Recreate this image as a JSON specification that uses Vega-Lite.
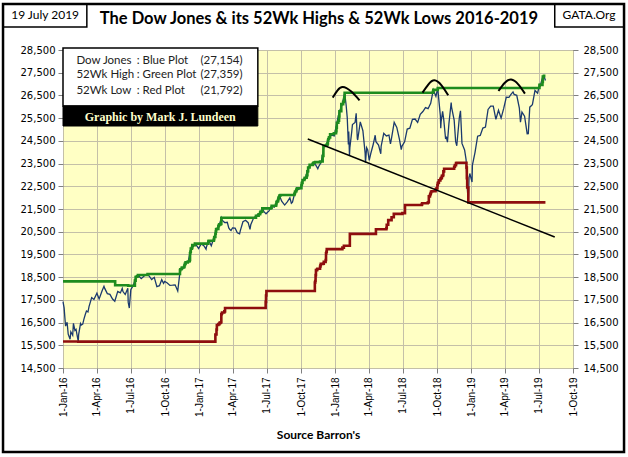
{
  "$schema": "https://vega.github.io/schema/vega-lite/v6.json",
  "width": 510,
  "height": 318,
  "autosize": {"type": "none"},
  "padding": {"left": 63, "top": 50, "right": 55, "bottom": 89},
  "background": "white",
  "view": {"fill": "#FFFFC4", "stroke": "#000000", "strokeWidth": 1},
  "config": {
    "axis": {"domain": false, "tickColor": "#808080", "tickSize": 5, "gridColor": "#C4C0A8", "gridOpacity": 1, "gridWidth": 1, "labelColor": "#000000", "labelFont": "DejaVu Sans", "labelFontSize": 10, "labelPadding": 3},
    "axisX": {"labelFont": "Liberation Sans", "labelFontSize": 10, "labelAngle": 270, "labelPadding": 4, "titleFont": "Lato", "titleFontWeight": "bold", "titleFontSize": 12, "titleColor": "#000000", "titlePadding": 13}
  },
  "encoding": {
    "x": {
      "field": "date", "type": "temporal",
      "scale": {"type": "utc", "nice": false, "domain": [{"year": 2016, "month": 1, "date": 1, "utc": true}, {"year": 2019, "month": 10, "date": 1, "utc": true}]},
      "axis": {
        "title": "Source Barron's", "grid": true, "labelExpr": "utcFormat(datum.value, '%-d-%b-%y')",
        "values": [
          {"year": 2016, "month": 1, "date": 1, "utc": true}, {"year": 2016, "month": 4, "date": 1, "utc": true}, {"year": 2016, "month": 7, "date": 1, "utc": true}, {"year": 2016, "month": 10, "date": 1, "utc": true},
          {"year": 2017, "month": 1, "date": 1, "utc": true}, {"year": 2017, "month": 4, "date": 1, "utc": true}, {"year": 2017, "month": 7, "date": 1, "utc": true}, {"year": 2017, "month": 10, "date": 1, "utc": true},
          {"year": 2018, "month": 1, "date": 1, "utc": true}, {"year": 2018, "month": 4, "date": 1, "utc": true}, {"year": 2018, "month": 7, "date": 1, "utc": true}, {"year": 2018, "month": 10, "date": 1, "utc": true},
          {"year": 2019, "month": 1, "date": 1, "utc": true}, {"year": 2019, "month": 4, "date": 1, "utc": true}, {"year": 2019, "month": 7, "date": 1, "utc": true}, {"year": 2019, "month": 10, "date": 1, "utc": true}
        ]
      }
    },
    "y": {"field": "value", "type": "quantitative", "scale": {"domain": [14500, 28500], "nice": false, "zero": false}, "axis": null}
  },
  "resolve": {"axis": {"y": "independent"}},
  "layer": [
    {
      "data": {"values": [
        {"date": "2016-01-01", "value": 17425}, {"date": "2016-01-04", "value": 17149}, {"date": "2016-01-07", "value": 16515}, {"date": "2016-01-08", "value": 16346}, {"date": "2016-01-12", "value": 16516}, {"date": "2016-01-15", "value": 15988}, {"date": "2016-01-20", "value": 15766}, {"date": "2016-01-22", "value": 16094}, {"date": "2016-01-27", "value": 15944}, {"date": "2016-01-29", "value": 16466},
        {"date": "2016-02-02", "value": 16153}, {"date": "2016-02-05", "value": 16205}, {"date": "2016-02-11", "value": 15660}, {"date": "2016-02-12", "value": 15974}, {"date": "2016-02-17", "value": 16454}, {"date": "2016-02-19", "value": 16392}, {"date": "2016-02-23", "value": 16431}, {"date": "2016-02-26", "value": 16640},
        {"date": "2016-03-01", "value": 16866}, {"date": "2016-03-04", "value": 17007}, {"date": "2016-03-08", "value": 16964}, {"date": "2016-03-11", "value": 17213}, {"date": "2016-03-18", "value": 17602}, {"date": "2016-03-24", "value": 17516},
        {"date": "2016-04-01", "value": 17793}, {"date": "2016-04-07", "value": 17542}, {"date": "2016-04-15", "value": 17897}, {"date": "2016-04-20", "value": 18096}, {"date": "2016-04-22", "value": 18004}, {"date": "2016-04-29", "value": 17774},
        {"date": "2016-05-06", "value": 17741}, {"date": "2016-05-13", "value": 17535}, {"date": "2016-05-19", "value": 17436}, {"date": "2016-05-27", "value": 17873},
        {"date": "2016-06-03", "value": 17807}, {"date": "2016-06-08", "value": 18005}, {"date": "2016-06-10", "value": 17865}, {"date": "2016-06-16", "value": 17733}, {"date": "2016-06-23", "value": 18011}, {"date": "2016-06-24", "value": 17400}, {"date": "2016-06-27", "value": 17140},
        {"date": "2016-07-01", "value": 17949}, {"date": "2016-07-08", "value": 18147}, {"date": "2016-07-15", "value": 18517}, {"date": "2016-07-20", "value": 18595}, {"date": "2016-07-29", "value": 18432},
        {"date": "2016-08-05", "value": 18543}, {"date": "2016-08-15", "value": 18636}, {"date": "2016-08-19", "value": 18553}, {"date": "2016-08-26", "value": 18395},
        {"date": "2016-09-02", "value": 18492}, {"date": "2016-09-09", "value": 18085}, {"date": "2016-09-16", "value": 18124}, {"date": "2016-09-22", "value": 18392}, {"date": "2016-09-27", "value": 18228}, {"date": "2016-09-30", "value": 18308},
        {"date": "2016-10-07", "value": 18240}, {"date": "2016-10-14", "value": 18138}, {"date": "2016-10-21", "value": 18145}, {"date": "2016-10-28", "value": 18161},
        {"date": "2016-11-04", "value": 17888}, {"date": "2016-11-09", "value": 18589}, {"date": "2016-11-11", "value": 18848}, {"date": "2016-11-18", "value": 18868}, {"date": "2016-11-25", "value": 19152},
        {"date": "2016-12-02", "value": 19171}, {"date": "2016-12-09", "value": 19757}, {"date": "2016-12-16", "value": 19843}, {"date": "2016-12-20", "value": 19975}, {"date": "2016-12-23", "value": 19934}, {"date": "2016-12-30", "value": 19763},
        {"date": "2017-01-06", "value": 19964}, {"date": "2017-01-13", "value": 19885}, {"date": "2017-01-19", "value": 19732}, {"date": "2017-01-20", "value": 19827}, {"date": "2017-01-25", "value": 20069}, {"date": "2017-01-27", "value": 20094},
        {"date": "2017-02-02", "value": 19884}, {"date": "2017-02-10", "value": 20269}, {"date": "2017-02-17", "value": 20624}, {"date": "2017-02-24", "value": 20822},
        {"date": "2017-03-01", "value": 21115}, {"date": "2017-03-03", "value": 21006}, {"date": "2017-03-10", "value": 20903}, {"date": "2017-03-17", "value": 20915}, {"date": "2017-03-21", "value": 20669}, {"date": "2017-03-24", "value": 20597}, {"date": "2017-03-27", "value": 20550}, {"date": "2017-03-31", "value": 20663},
        {"date": "2017-04-07", "value": 20656}, {"date": "2017-04-13", "value": 20453}, {"date": "2017-04-19", "value": 20404}, {"date": "2017-04-21", "value": 20548}, {"date": "2017-04-28", "value": 20941},
        {"date": "2017-05-05", "value": 21007}, {"date": "2017-05-12", "value": 20897}, {"date": "2017-05-17", "value": 20606}, {"date": "2017-05-19", "value": 20805}, {"date": "2017-05-26", "value": 21080},
        {"date": "2017-06-02", "value": 21206}, {"date": "2017-06-09", "value": 21272}, {"date": "2017-06-16", "value": 21384}, {"date": "2017-06-19", "value": 21529}, {"date": "2017-06-23", "value": 21395}, {"date": "2017-06-29", "value": 21287},
        {"date": "2017-07-07", "value": 21414}, {"date": "2017-07-14", "value": 21638}, {"date": "2017-07-21", "value": 21580}, {"date": "2017-07-28", "value": 21830},
        {"date": "2017-08-04", "value": 22093}, {"date": "2017-08-10", "value": 21844}, {"date": "2017-08-18", "value": 21674}, {"date": "2017-08-25", "value": 21814},
        {"date": "2017-09-01", "value": 21988}, {"date": "2017-09-05", "value": 21753}, {"date": "2017-09-08", "value": 21798}, {"date": "2017-09-15", "value": 22268}, {"date": "2017-09-22", "value": 22350}, {"date": "2017-09-29", "value": 22405},
        {"date": "2017-10-06", "value": 22774}, {"date": "2017-10-13", "value": 22871}, {"date": "2017-10-20", "value": 23329}, {"date": "2017-10-27", "value": 23434},
        {"date": "2017-11-03", "value": 23539}, {"date": "2017-11-10", "value": 23422}, {"date": "2017-11-15", "value": 23271}, {"date": "2017-11-17", "value": 23358}, {"date": "2017-11-24", "value": 23558},
        {"date": "2017-12-01", "value": 24231}, {"date": "2017-12-08", "value": 24329}, {"date": "2017-12-15", "value": 24652}, {"date": "2017-12-22", "value": 24754}, {"date": "2017-12-29", "value": 24719},
        {"date": "2018-01-05", "value": 25296}, {"date": "2018-01-12", "value": 25803}, {"date": "2018-01-19", "value": 26072}, {"date": "2018-01-26", "value": 26617}, {"date": "2018-01-30", "value": 26077},
        {"date": "2018-02-02", "value": 25521}, {"date": "2018-02-05", "value": 24346}, {"date": "2018-02-06", "value": 24913}, {"date": "2018-02-08", "value": 23860}, {"date": "2018-02-09", "value": 24191}, {"date": "2018-02-14", "value": 24893}, {"date": "2018-02-16", "value": 25219}, {"date": "2018-02-23", "value": 25310}, {"date": "2018-02-26", "value": 25710},
        {"date": "2018-03-01", "value": 24609}, {"date": "2018-03-02", "value": 24538}, {"date": "2018-03-09", "value": 25336}, {"date": "2018-03-16", "value": 24947}, {"date": "2018-03-22", "value": 23958}, {"date": "2018-03-23", "value": 23533}, {"date": "2018-03-26", "value": 24202}, {"date": "2018-03-29", "value": 24103},
        {"date": "2018-04-02", "value": 23644}, {"date": "2018-04-06", "value": 23933}, {"date": "2018-04-13", "value": 24360}, {"date": "2018-04-18", "value": 24748}, {"date": "2018-04-20", "value": 24463}, {"date": "2018-04-27", "value": 24311},
        {"date": "2018-05-03", "value": 23930}, {"date": "2018-05-04", "value": 24263}, {"date": "2018-05-11", "value": 24831}, {"date": "2018-05-18", "value": 24715}, {"date": "2018-05-25", "value": 24753}, {"date": "2018-05-29", "value": 24362},
        {"date": "2018-06-01", "value": 24635}, {"date": "2018-06-08", "value": 25317}, {"date": "2018-06-15", "value": 25090}, {"date": "2018-06-22", "value": 24581}, {"date": "2018-06-27", "value": 24117}, {"date": "2018-06-29", "value": 24271},
        {"date": "2018-07-06", "value": 24456}, {"date": "2018-07-13", "value": 25019}, {"date": "2018-07-20", "value": 25058}, {"date": "2018-07-27", "value": 25451},
        {"date": "2018-08-03", "value": 25463}, {"date": "2018-08-10", "value": 25313}, {"date": "2018-08-17", "value": 25669}, {"date": "2018-08-24", "value": 25790}, {"date": "2018-08-31", "value": 25965},
        {"date": "2018-09-07", "value": 25917}, {"date": "2018-09-14", "value": 26155}, {"date": "2018-09-21", "value": 26744}, {"date": "2018-09-28", "value": 26458},
        {"date": "2018-10-03", "value": 26828}, {"date": "2018-10-05", "value": 26447}, {"date": "2018-10-10", "value": 25599}, {"date": "2018-10-11", "value": 25053}, {"date": "2018-10-12", "value": 25340}, {"date": "2018-10-16", "value": 25798}, {"date": "2018-10-19", "value": 25444}, {"date": "2018-10-24", "value": 24583}, {"date": "2018-10-26", "value": 24688}, {"date": "2018-10-29", "value": 24443},
        {"date": "2018-11-02", "value": 25271}, {"date": "2018-11-08", "value": 26191}, {"date": "2018-11-09", "value": 25989}, {"date": "2018-11-16", "value": 25413}, {"date": "2018-11-20", "value": 24465}, {"date": "2018-11-23", "value": 24286}, {"date": "2018-11-30", "value": 25538},
        {"date": "2018-12-03", "value": 25826}, {"date": "2018-12-07", "value": 24389}, {"date": "2018-12-14", "value": 24101}, {"date": "2018-12-18", "value": 23675}, {"date": "2018-12-20", "value": 22859}, {"date": "2018-12-21", "value": 22445}, {"date": "2018-12-24", "value": 21792}, {"date": "2018-12-26", "value": 22878}, {"date": "2018-12-28", "value": 23062},
        {"date": "2019-01-03", "value": 22686}, {"date": "2019-01-04", "value": 23433}, {"date": "2019-01-11", "value": 23996}, {"date": "2019-01-18", "value": 24706}, {"date": "2019-01-25", "value": 24737},
        {"date": "2019-02-01", "value": 25064}, {"date": "2019-02-08", "value": 25106}, {"date": "2019-02-15", "value": 25883}, {"date": "2019-02-22", "value": 26031},
        {"date": "2019-03-01", "value": 26026}, {"date": "2019-03-08", "value": 25450}, {"date": "2019-03-15", "value": 25849}, {"date": "2019-03-22", "value": 25502}, {"date": "2019-03-29", "value": 25929},
        {"date": "2019-04-05", "value": 26425}, {"date": "2019-04-12", "value": 26412}, {"date": "2019-04-18", "value": 26559}, {"date": "2019-04-23", "value": 26656}, {"date": "2019-04-26", "value": 26543},
        {"date": "2019-05-03", "value": 26505}, {"date": "2019-05-10", "value": 25942}, {"date": "2019-05-13", "value": 25325}, {"date": "2019-05-17", "value": 25764}, {"date": "2019-05-24", "value": 25586}, {"date": "2019-05-31", "value": 24815},
        {"date": "2019-06-03", "value": 24820}, {"date": "2019-06-07", "value": 25984}, {"date": "2019-06-14", "value": 26090}, {"date": "2019-06-21", "value": 26719}, {"date": "2019-06-28", "value": 26600},
        {"date": "2019-07-03", "value": 26966}, {"date": "2019-07-05", "value": 26922}, {"date": "2019-07-12", "value": 27332}, {"date": "2019-07-15", "value": 27359}, {"date": "2019-07-19", "value": 27154}
      ]},
      "mark": {"type": "line", "color": "#1B3A6E", "strokeWidth": 1.3},
      "encoding": {
        "y": {"field": "value", "type": "quantitative", "scale": {"domain": [14500, 28500], "nice": false, "zero": false},
          "axis": {"orient": "left", "title": null, "grid": true, "format": ",d", "values": [14500, 15500, 16500, 17500, 18500, 19500, 20500, 21500, 22500, 23500, 24500, 25500, 26500, 27500, 28500]}}
      }
    },
    {
      "data": {"values": [
        {"date": "2016-01-01", "value": 18312}, {"date": "2016-05-20", "value": 18144}, {"date": "2016-06-24", "value": 18120}, {"date": "2016-07-12", "value": 18347}, {"date": "2016-07-14", "value": 18506}, {"date": "2016-07-15", "value": 18517}, {"date": "2016-07-18", "value": 18534}, {"date": "2016-07-20", "value": 18595}, {"date": "2016-08-15", "value": 18636},
        {"date": "2016-11-10", "value": 18808}, {"date": "2016-11-11", "value": 18848}, {"date": "2016-11-14", "value": 18869}, {"date": "2016-11-15", "value": 18924}, {"date": "2016-11-21", "value": 18956}, {"date": "2016-11-22", "value": 19024}, {"date": "2016-11-23", "value": 19083}, {"date": "2016-11-25", "value": 19152},
        {"date": "2016-12-01", "value": 19191}, {"date": "2016-12-05", "value": 19216}, {"date": "2016-12-06", "value": 19252}, {"date": "2016-12-07", "value": 19549}, {"date": "2016-12-08", "value": 19615}, {"date": "2016-12-09", "value": 19757}, {"date": "2016-12-12", "value": 19797}, {"date": "2016-12-13", "value": 19911}, {"date": "2016-12-20", "value": 19975},
        {"date": "2017-01-25", "value": 20069}, {"date": "2017-01-26", "value": 20101}, {"date": "2017-02-09", "value": 20172}, {"date": "2017-02-10", "value": 20269}, {"date": "2017-02-13", "value": 20413}, {"date": "2017-02-14", "value": 20504}, {"date": "2017-02-15", "value": 20611}, {"date": "2017-02-17", "value": 20624}, {"date": "2017-02-21", "value": 20744}, {"date": "2017-02-22", "value": 20776}, {"date": "2017-02-23", "value": 20811}, {"date": "2017-02-24", "value": 20822}, {"date": "2017-02-27", "value": 20837},
        {"date": "2017-03-01", "value": 21115}, {"date": "2017-06-02", "value": 21206}, {"date": "2017-06-09", "value": 21272}, {"date": "2017-06-13", "value": 21328}, {"date": "2017-06-14", "value": 21375}, {"date": "2017-06-16", "value": 21384}, {"date": "2017-06-19", "value": 21529},
        {"date": "2017-07-12", "value": 21532}, {"date": "2017-07-13", "value": 21553}, {"date": "2017-07-14", "value": 21638}, {"date": "2017-07-19", "value": 21641}, {"date": "2017-07-26", "value": 21711}, {"date": "2017-07-27", "value": 21796}, {"date": "2017-07-28", "value": 21830}, {"date": "2017-07-31", "value": 21891},
        {"date": "2017-08-01", "value": 21964}, {"date": "2017-08-02", "value": 22016}, {"date": "2017-08-03", "value": 22026}, {"date": "2017-08-04", "value": 22093}, {"date": "2017-08-07", "value": 22118},
        {"date": "2017-09-12", "value": 22119}, {"date": "2017-09-13", "value": 22158}, {"date": "2017-09-14", "value": 22203}, {"date": "2017-09-15", "value": 22268}, {"date": "2017-09-18", "value": 22331}, {"date": "2017-09-19", "value": 22370}, {"date": "2017-09-20", "value": 22412},
        {"date": "2017-10-02", "value": 22557}, {"date": "2017-10-03", "value": 22641}, {"date": "2017-10-04", "value": 22661}, {"date": "2017-10-05", "value": 22775}, {"date": "2017-10-10", "value": 22831}, {"date": "2017-10-11", "value": 22873}, {"date": "2017-10-16", "value": 22957}, {"date": "2017-10-17", "value": 22997}, {"date": "2017-10-18", "value": 23158}, {"date": "2017-10-19", "value": 23163}, {"date": "2017-10-20", "value": 23329}, {"date": "2017-10-24", "value": 23441},
        {"date": "2017-11-02", "value": 23517}, {"date": "2017-11-03", "value": 23539}, {"date": "2017-11-06", "value": 23548}, {"date": "2017-11-07", "value": 23557}, {"date": "2017-11-08", "value": 23563}, {"date": "2017-11-21", "value": 23590}, {"date": "2017-11-28", "value": 23836}, {"date": "2017-11-30", "value": 24272},
        {"date": "2017-12-04", "value": 24290}, {"date": "2017-12-08", "value": 24329}, {"date": "2017-12-11", "value": 24387}, {"date": "2017-12-12", "value": 24504}, {"date": "2017-12-13", "value": 24585}, {"date": "2017-12-15", "value": 24652}, {"date": "2017-12-18", "value": 24792}, {"date": "2017-12-28", "value": 24838},
        {"date": "2018-01-03", "value": 24922}, {"date": "2018-01-04", "value": 25075}, {"date": "2018-01-05", "value": 25295}, {"date": "2018-01-09", "value": 25385}, {"date": "2018-01-11", "value": 25574}, {"date": "2018-01-12", "value": 25803}, {"date": "2018-01-17", "value": 26115}, {"date": "2018-01-22", "value": 26214}, {"date": "2018-01-24", "value": 26252}, {"date": "2018-01-25", "value": 26392}, {"date": "2018-01-26", "value": 26617},
        {"date": "2018-09-20", "value": 26657}, {"date": "2018-09-21", "value": 26744}, {"date": "2018-10-03", "value": 26828},
        {"date": "2019-07-03", "value": 26966}, {"date": "2019-07-11", "value": 27088}, {"date": "2019-07-12", "value": 27332}, {"date": "2019-07-15", "value": 27359}, {"date": "2019-07-19", "value": 27359}
      ]},
      "mark": {"type": "line", "color": "#1E8C1E", "strokeWidth": 2.6, "interpolate": "step-after"},
      "encoding": {
        "y": {"field": "value", "type": "quantitative", "scale": {"domain": [14500, 28500], "nice": false, "zero": false},
          "axis": {"orient": "right", "title": null, "grid": false, "format": ",d", "labelPadding": 5, "values": [14500, 15500, 16500, 17500, 18500, 19500, 20500, 21500, 22500, 23500, 24500, 25500, 26500, 27500, 28500]}}
      }
    },
    {
      "data": {"values": [
        {"date": "2016-01-01", "value": 15666}, {"date": "2016-02-11", "value": 15660},
        {"date": "2017-02-13", "value": 15974}, {"date": "2017-02-16", "value": 16196}, {"date": "2017-02-17", "value": 16392}, {"date": "2017-02-21", "value": 16431}, {"date": "2017-02-24", "value": 16485}, {"date": "2017-02-27", "value": 16517},
        {"date": "2017-03-01", "value": 16866}, {"date": "2017-03-02", "value": 16900}, {"date": "2017-03-03", "value": 16944}, {"date": "2017-03-09", "value": 16995}, {"date": "2017-03-11", "value": 17140},
        {"date": "2017-06-28", "value": 17410}, {"date": "2017-06-29", "value": 17695}, {"date": "2017-06-30", "value": 17888},
        {"date": "2017-11-07", "value": 18259}, {"date": "2017-11-08", "value": 18332}, {"date": "2017-11-09", "value": 18589}, {"date": "2017-11-10", "value": 18808}, {"date": "2017-11-13", "value": 18848}, {"date": "2017-11-14", "value": 18867}, {"date": "2017-11-21", "value": 18956}, {"date": "2017-11-22", "value": 19024}, {"date": "2017-11-23", "value": 19083}, {"date": "2017-11-29", "value": 19097},
        {"date": "2017-12-01", "value": 19170}, {"date": "2017-12-06", "value": 19252}, {"date": "2017-12-07", "value": 19549}, {"date": "2017-12-08", "value": 19615}, {"date": "2017-12-09", "value": 19732},
        {"date": "2018-01-20", "value": 19799}, {"date": "2018-01-24", "value": 19884}, {"date": "2018-02-09", "value": 20404}, {"date": "2018-04-20", "value": 20606},
        {"date": "2018-05-18", "value": 20663}, {"date": "2018-05-19", "value": 20805}, {"date": "2018-05-23", "value": 21009}, {"date": "2018-06-01", "value": 21136}, {"date": "2018-06-07", "value": 21287}, {"date": "2018-06-30", "value": 21320}, {"date": "2018-07-07", "value": 21674},
        {"date": "2018-08-21", "value": 21703}, {"date": "2018-08-22", "value": 21753}, {"date": "2018-09-06", "value": 21784}, {"date": "2018-09-08", "value": 21798}, {"date": "2018-09-09", "value": 22057}, {"date": "2018-09-12", "value": 22119}, {"date": "2018-09-13", "value": 22158}, {"date": "2018-09-14", "value": 22203}, {"date": "2018-09-15", "value": 22268}, {"date": "2018-09-18", "value": 22284}, {"date": "2018-09-27", "value": 22340}, {"date": "2018-09-28", "value": 22381}, {"date": "2018-09-29", "value": 22405},
        {"date": "2018-10-02", "value": 22557}, {"date": "2018-10-03", "value": 22641}, {"date": "2018-10-04", "value": 22661}, {"date": "2018-10-06", "value": 22761}, {"date": "2018-10-10", "value": 22831}, {"date": "2018-10-12", "value": 22871}, {"date": "2018-10-14", "value": 22957}, {"date": "2018-10-17", "value": 22997}, {"date": "2018-10-18", "value": 23158}, {"date": "2018-10-20", "value": 23271},
        {"date": "2018-11-16", "value": 23358}, {"date": "2018-11-18", "value": 23430}, {"date": "2018-11-21", "value": 23526}, {"date": "2018-11-23", "value": 23533},
        {"date": "2018-12-19", "value": 23323}, {"date": "2018-12-20", "value": 22859}, {"date": "2018-12-21", "value": 22445}, {"date": "2018-12-24", "value": 21792}, {"date": "2019-07-19", "value": 21792}
      ]},
      "mark": {"type": "line", "color": "#8E0E0E", "strokeWidth": 2.6, "interpolate": "step-after"}
    },
    {
      "data": {"values": [{"date": "2017-10-19", "value": 24582}, {"date": "2019-08-13", "value": 20267}]},
      "mark": {"type": "line", "color": "#000000", "strokeWidth": 1.5}
    },
    {
      "data": {"values": [
        {"arc": 1, "date": "2017-12-25", "value": 26404}, {"arc": 1, "date": "2018-01-07", "value": 26726}, {"arc": 1, "date": "2018-01-21", "value": 26871}, {"arc": 1, "date": "2018-02-12", "value": 26682}, {"arc": 1, "date": "2018-03-07", "value": 26285},
        {"arc": 2, "date": "2018-08-23", "value": 26624}, {"arc": 2, "date": "2018-09-08", "value": 26990}, {"arc": 2, "date": "2018-09-24", "value": 27166}, {"arc": 2, "date": "2018-10-13", "value": 26946}, {"arc": 2, "date": "2018-10-31", "value": 26505},
        {"arc": 3, "date": "2019-03-15", "value": 26695}, {"arc": 3, "date": "2019-04-01", "value": 27056}, {"arc": 3, "date": "2019-04-18", "value": 27197}, {"arc": 3, "date": "2019-05-07", "value": 26990}, {"arc": 3, "date": "2019-05-25", "value": 26580}
      ]},
      "mark": {"type": "line", "color": "#000000", "strokeWidth": 2, "interpolate": "natural"},
      "encoding": {"detail": {"field": "arc", "type": "nominal"}}
    },
    {
      "data": {"values": [
        {"date": "2015-07-24", "date2": "2016-03-05", "value": 30525, "value2": 29513},
        {"date": "2019-08-13", "date2": "2020-02-15", "value": 30525, "value2": 29513},
        {"date": "2016-01-01", "date2": "2017-06-07", "value": 28588, "value2": 26035}
      ], "format": {"parse": {"date": "date", "date2": "date"}}},
      "mark": {"type": "rect", "fill": "#FFFFFF", "stroke": "#000000", "strokeWidth": 1.5},
      "encoding": {"x2": {"field": "date2"}, "y2": {"field": "value2"}}
    },
    {
      "data": {"values": [
        {"date": "2016-01-01", "date2": "2017-06-07", "value": 26035, "value2": 25154}
      ], "format": {"parse": {"date": "date", "date2": "date"}}},
      "mark": {"type": "rect", "fill": "#000000", "stroke": "#000000", "strokeWidth": 1},
      "encoding": {"x2": {"field": "date2"}, "y2": {"field": "value2"}}
    },
    {
      "data": {"values": [
        {"date": "2015-07-24", "date2": "2020-02-15", "value": 30525, "value2": 10802}
      ], "format": {"parse": {"date": "date", "date2": "date"}}},
      "mark": {"type": "rect", "fillOpacity": 0, "stroke": "#000000", "strokeWidth": 2.5},
      "encoding": {"x2": {"field": "date2"}, "y2": {"field": "value2"}}
    },
    {
      "data": {"values": [{"date": "2017-11-18", "value": 29865, "label": "The Dow Jones & its 52Wk Highs & 52Wk Lows 2016-2019"}]},
      "mark": {"type": "text", "font": "Lato", "fontWeight": "bold", "fontSize": 16.5, "align": "center", "baseline": "middle", "color": "#000000"},
      "encoding": {"text": {"field": "label"}}
    },
    {
      "data": {"values": [
        {"date": "2015-11-14", "value": 30019, "label": "19 July 2019"},
        {"date": "2019-11-13", "value": 30041, "label": "GATA.Org"}
      ]},
      "mark": {"type": "text", "font": "Lato", "fontSize": 12, "align": "center", "baseline": "middle", "color": "#000000"},
      "encoding": {"text": {"field": "label"}}
    },
    {
      "data": {"values": [
        {"date": "2016-02-06", "value": 28029, "label": "Dow Jones"},
        {"date": "2016-02-06", "value": 27399, "label": "52Wk High"},
        {"date": "2016-02-06", "value": 26695, "label": "52Wk Low"},
        {"date": "2016-07-17", "value": 28029, "label": ": Blue Plot"},
        {"date": "2016-07-17", "value": 27399, "label": ": Green Plot"},
        {"date": "2016-07-17", "value": 26695, "label": ": Red Plot"}
      ]},
      "mark": {"type": "text", "font": "Lato", "fontSize": 11.5, "align": "left", "baseline": "middle", "color": "#222222"},
      "encoding": {"text": {"field": "label"}}
    },
    {
      "data": {"values": [
        {"date": "2017-04-27", "value": 28029, "label": "(27,154)"},
        {"date": "2017-04-27", "value": 27399, "label": "(27,359)"},
        {"date": "2017-04-27", "value": 26695, "label": "(21,792)"}
      ]},
      "mark": {"type": "text", "font": "Lato", "fontSize": 11.5, "align": "right", "baseline": "middle", "color": "#222222"},
      "encoding": {"text": {"field": "label"}}
    },
    {
      "data": {"values": [{"date": "2016-09-18", "value": 25550, "label": "Graphic by Mark J. Lundeen"}]},
      "mark": {"type": "text", "font": "Liberation Serif", "fontWeight": "bold", "fontSize": 12, "align": "center", "baseline": "middle", "color": "#FFFFCC"},
      "encoding": {"text": {"field": "label"}}
    }
  ]
}
